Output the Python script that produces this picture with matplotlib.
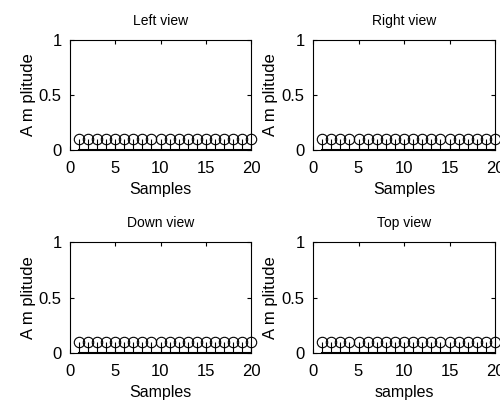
import numpy as np
import matplotlib
matplotlib.use('Agg')
import matplotlib.pyplot as plt

plt.rcParams['font.family'] = ['Liberation Sans Narrow', 'Liberation Sans', 'DejaVu Sans']

samples = np.arange(1, 21)
left = [0.1] * 20
right = [0.1] * 20
down = [0.1] * 20
top = [0.1] * 20

titles = ['Left view', 'Right view', 'Down view', 'Top view']
xlabels = ['Samples', 'Samples', 'Samples', 'samples']
series = [left, right, down, top]

# axes rectangles in pixels (left, top, right, bottom)
boxes = [(70, 40, 251, 150), (313, 40, 495, 150),
         (70, 242, 251, 353), (313, 242, 495, 353)]

W, H = 500, 405
fig = plt.figure(figsize=(W / 100, H / 100), dpi=100)

for (l, t, r, b), y, title, xl in zip(boxes, series, titles, xlabels):
    ax = fig.add_axes([l / W, 1 - b / H, (r - l) / W, (b - t) / H])
    ml, sl, bl = ax.stem(samples, y, linefmt='k-', markerfmt='o', basefmt='k-')
    ml.set_markerfacecolor('none')
    ml.set_markeredgecolor('k')
    ml.set_markersize(7.5)
    ml.set_markeredgewidth(0.8)
    sl.set_linewidth(0.8)
    ml.set_clip_on(False)
    ax.set_xlim(0, 20)
    ax.set_ylim(0, 1)
    ax.set_xticks([0, 5, 10, 15, 20])
    ax.set_yticks([0, 0.5, 1])
    ax.set_yticklabels(['0', '0.5', '1'])
    ax.tick_params(direction='in', top=True, right=True, length=3,
                   labelsize=12)
    ax.tick_params(axis='x', pad=8)
    ax.tick_params(axis='y', pad=6)
    ax.set_title(title, fontsize=10, pad=11)
    ax.set_xlabel(xl, fontsize=11.5, labelpad=4)
    ax.set_ylabel('A m plitude', fontsize=12)
    ax.yaxis.set_label_coords(-0.19, 0.5)
    for s in ax.spines.values():
        s.set_linewidth(0.8)

fig.savefig('out.png', dpi=100)
